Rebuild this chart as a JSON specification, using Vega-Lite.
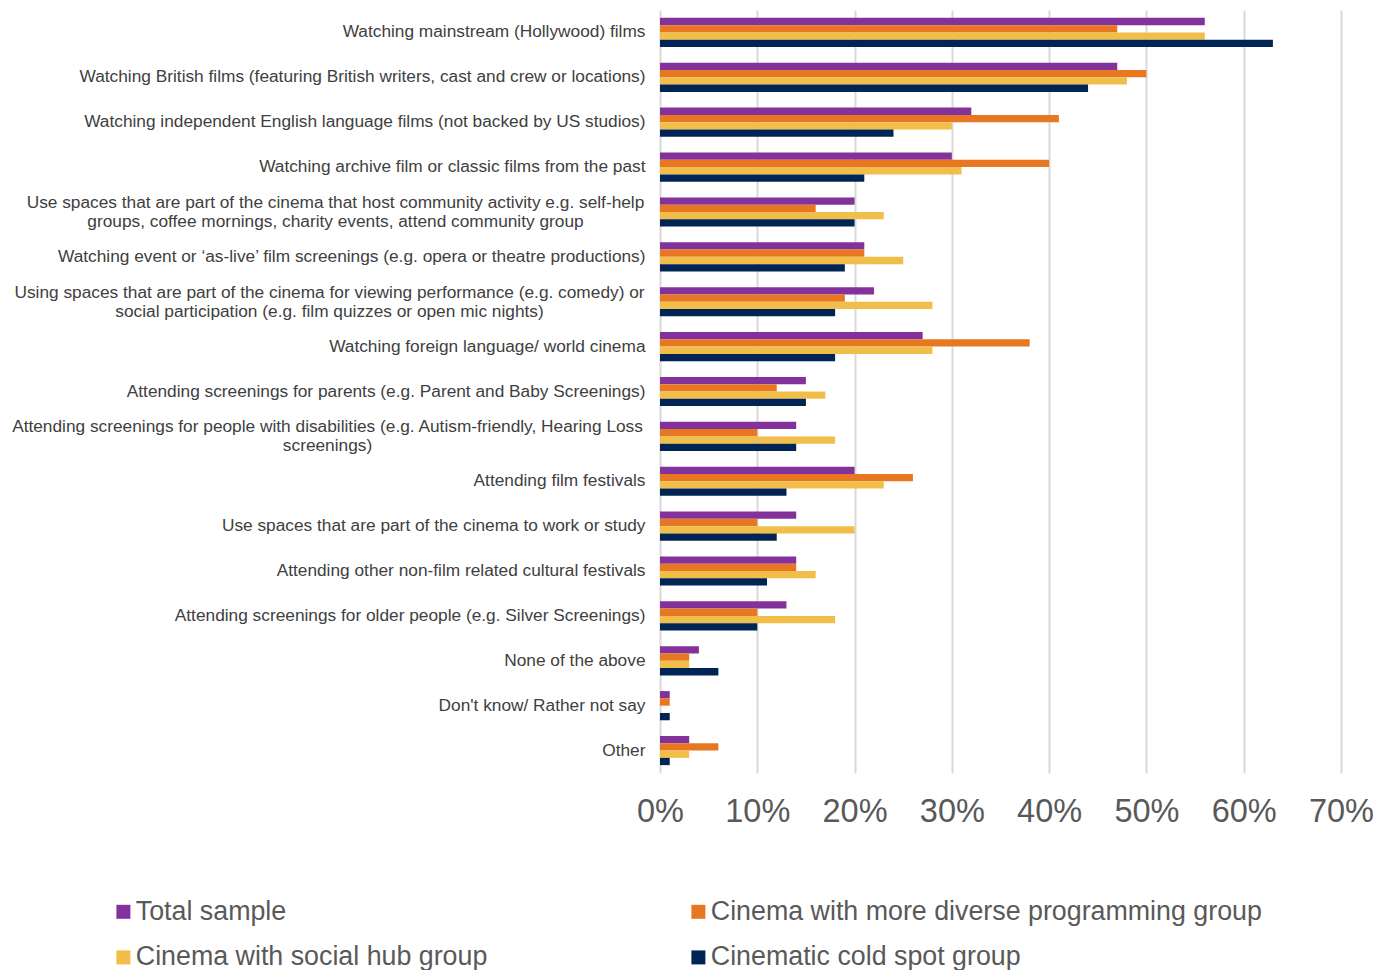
{
  "$schema": "https://vega.github.io/schema/vega-lite/v6.json",
  "width": 681,
  "height": 763,
  "autosize": {"type": "none"},
  "padding": {"left": 660, "top": 10, "right": 50, "bottom": 197},
  "background": "white",
  "config": {
    "font": "Liberation Sans",
    "view": {"stroke": null}
  },
  "data": {
    "values": [
      {"category": "Watching mainstream (Hollywood) films", "group": "Total sample", "value": 56},
      {"category": "Watching mainstream (Hollywood) films", "group": "Cinema with more diverse programming group", "value": 47},
      {"category": "Watching mainstream (Hollywood) films", "group": "Cinema with social hub group", "value": 56},
      {"category": "Watching mainstream (Hollywood) films", "group": "Cinematic cold spot group", "value": 63},
      {"category": "Watching British films (featuring British writers, cast and crew or locations)", "group": "Total sample", "value": 47},
      {"category": "Watching British films (featuring British writers, cast and crew or locations)", "group": "Cinema with more diverse programming group", "value": 50},
      {"category": "Watching British films (featuring British writers, cast and crew or locations)", "group": "Cinema with social hub group", "value": 48},
      {"category": "Watching British films (featuring British writers, cast and crew or locations)", "group": "Cinematic cold spot group", "value": 44},
      {"category": "Watching independent English language films (not backed by US studios)", "group": "Total sample", "value": 32},
      {"category": "Watching independent English language films (not backed by US studios)", "group": "Cinema with more diverse programming group", "value": 41},
      {"category": "Watching independent English language films (not backed by US studios)", "group": "Cinema with social hub group", "value": 30},
      {"category": "Watching independent English language films (not backed by US studios)", "group": "Cinematic cold spot group", "value": 24},
      {"category": "Watching archive film or classic films from the past", "group": "Total sample", "value": 30},
      {"category": "Watching archive film or classic films from the past", "group": "Cinema with more diverse programming group", "value": 40},
      {"category": "Watching archive film or classic films from the past", "group": "Cinema with social hub group", "value": 31},
      {"category": "Watching archive film or classic films from the past", "group": "Cinematic cold spot group", "value": 21},
      {"category": "Use spaces that are part of the cinema that host community activity e.g. self-help|groups, coffee mornings, charity events, attend community group", "group": "Total sample", "value": 20},
      {"category": "Use spaces that are part of the cinema that host community activity e.g. self-help|groups, coffee mornings, charity events, attend community group", "group": "Cinema with more diverse programming group", "value": 16},
      {"category": "Use spaces that are part of the cinema that host community activity e.g. self-help|groups, coffee mornings, charity events, attend community group", "group": "Cinema with social hub group", "value": 23},
      {"category": "Use spaces that are part of the cinema that host community activity e.g. self-help|groups, coffee mornings, charity events, attend community group", "group": "Cinematic cold spot group", "value": 20},
      {"category": "Watching event or ‘as-live’ film screenings (e.g. opera or theatre productions)", "group": "Total sample", "value": 21},
      {"category": "Watching event or ‘as-live’ film screenings (e.g. opera or theatre productions)", "group": "Cinema with more diverse programming group", "value": 21},
      {"category": "Watching event or ‘as-live’ film screenings (e.g. opera or theatre productions)", "group": "Cinema with social hub group", "value": 25},
      {"category": "Watching event or ‘as-live’ film screenings (e.g. opera or theatre productions)", "group": "Cinematic cold spot group", "value": 19},
      {"category": "Using spaces that are part of the cinema for viewing performance (e.g. comedy) or|social participation (e.g. film quizzes or open mic nights)", "group": "Total sample", "value": 22},
      {"category": "Using spaces that are part of the cinema for viewing performance (e.g. comedy) or|social participation (e.g. film quizzes or open mic nights)", "group": "Cinema with more diverse programming group", "value": 19},
      {"category": "Using spaces that are part of the cinema for viewing performance (e.g. comedy) or|social participation (e.g. film quizzes or open mic nights)", "group": "Cinema with social hub group", "value": 28},
      {"category": "Using spaces that are part of the cinema for viewing performance (e.g. comedy) or|social participation (e.g. film quizzes or open mic nights)", "group": "Cinematic cold spot group", "value": 18},
      {"category": "Watching foreign language/ world cinema", "group": "Total sample", "value": 27},
      {"category": "Watching foreign language/ world cinema", "group": "Cinema with more diverse programming group", "value": 38},
      {"category": "Watching foreign language/ world cinema", "group": "Cinema with social hub group", "value": 28},
      {"category": "Watching foreign language/ world cinema", "group": "Cinematic cold spot group", "value": 18},
      {"category": "Attending screenings for parents (e.g. Parent and Baby Screenings)", "group": "Total sample", "value": 15},
      {"category": "Attending screenings for parents (e.g. Parent and Baby Screenings)", "group": "Cinema with more diverse programming group", "value": 12},
      {"category": "Attending screenings for parents (e.g. Parent and Baby Screenings)", "group": "Cinema with social hub group", "value": 17},
      {"category": "Attending screenings for parents (e.g. Parent and Baby Screenings)", "group": "Cinematic cold spot group", "value": 15},
      {"category": "Attending screenings for people with disabilities (e.g. Autism-friendly, Hearing Loss|screenings)", "group": "Total sample", "value": 14},
      {"category": "Attending screenings for people with disabilities (e.g. Autism-friendly, Hearing Loss|screenings)", "group": "Cinema with more diverse programming group", "value": 10},
      {"category": "Attending screenings for people with disabilities (e.g. Autism-friendly, Hearing Loss|screenings)", "group": "Cinema with social hub group", "value": 18},
      {"category": "Attending screenings for people with disabilities (e.g. Autism-friendly, Hearing Loss|screenings)", "group": "Cinematic cold spot group", "value": 14},
      {"category": "Attending film festivals", "group": "Total sample", "value": 20},
      {"category": "Attending film festivals", "group": "Cinema with more diverse programming group", "value": 26},
      {"category": "Attending film festivals", "group": "Cinema with social hub group", "value": 23},
      {"category": "Attending film festivals", "group": "Cinematic cold spot group", "value": 13},
      {"category": "Use spaces that are part of the cinema to work or study", "group": "Total sample", "value": 14},
      {"category": "Use spaces that are part of the cinema to work or study", "group": "Cinema with more diverse programming group", "value": 10},
      {"category": "Use spaces that are part of the cinema to work or study", "group": "Cinema with social hub group", "value": 20},
      {"category": "Use spaces that are part of the cinema to work or study", "group": "Cinematic cold spot group", "value": 12},
      {"category": "Attending other non-film related cultural festivals", "group": "Total sample", "value": 14},
      {"category": "Attending other non-film related cultural festivals", "group": "Cinema with more diverse programming group", "value": 14},
      {"category": "Attending other non-film related cultural festivals", "group": "Cinema with social hub group", "value": 16},
      {"category": "Attending other non-film related cultural festivals", "group": "Cinematic cold spot group", "value": 11},
      {"category": "Attending screenings for older people (e.g. Silver Screenings)", "group": "Total sample", "value": 13},
      {"category": "Attending screenings for older people (e.g. Silver Screenings)", "group": "Cinema with more diverse programming group", "value": 10},
      {"category": "Attending screenings for older people (e.g. Silver Screenings)", "group": "Cinema with social hub group", "value": 18},
      {"category": "Attending screenings for older people (e.g. Silver Screenings)", "group": "Cinematic cold spot group", "value": 10},
      {"category": "None of the above", "group": "Total sample", "value": 4},
      {"category": "None of the above", "group": "Cinema with more diverse programming group", "value": 3},
      {"category": "None of the above", "group": "Cinema with social hub group", "value": 3},
      {"category": "None of the above", "group": "Cinematic cold spot group", "value": 6},
      {"category": "Don't know/ Rather not say", "group": "Total sample", "value": 1},
      {"category": "Don't know/ Rather not say", "group": "Cinema with more diverse programming group", "value": 1},
      {"category": "Don't know/ Rather not say", "group": "Cinema with social hub group", "value": 0},
      {"category": "Don't know/ Rather not say", "group": "Cinematic cold spot group", "value": 1},
      {"category": "Other", "group": "Total sample", "value": 3},
      {"category": "Other", "group": "Cinema with more diverse programming group", "value": 6},
      {"category": "Other", "group": "Cinema with social hub group", "value": 3},
      {"category": "Other", "group": "Cinematic cold spot group", "value": 1}
    ]
  },
  "mark": {"type": "bar"},
  "encoding": {
    "y": {
      "field": "category",
      "type": "nominal",
      "sort": null,
      "scale": {"paddingInner": 0.35, "paddingOuter": 0.175},
      "axis": {
        "title": null,
        "domain": false,
        "ticks": false,
        "tickSize": 0,
        "labelExpr": "split(datum.value, '|')",
        "labelFontSize": 17.3,
        "labelColor": "#404040",
        "labelLimit": 1000,
        "labelLineHeight": 19,
        "labelAlign": {"expr": "indexof(datum.value, '|') >= 0 ? 'center' : 'right'"},
        "labelOffset": {"expr": "indexof(datum.value, '|') >= 0 ? -9 : 0"},
        "labelPadding": {"expr": "indexof(datum.value, 'host community') >= 0 ? 325 : indexof(datum.value, 'viewing performance') >= 0 ? 331 : indexof(datum.value, 'disabilities') >= 0 ? 333 : 15"}
      }
    },
    "yOffset": {
      "field": "group",
      "type": "nominal",
      "sort": ["Total sample", "Cinema with more diverse programming group", "Cinema with social hub group", "Cinematic cold spot group"]
    },
    "x": {
      "field": "value",
      "type": "quantitative",
      "scale": {"domain": [0, 70], "nice": false},
      "axis": {
        "title": null,
        "values": [0, 10, 20, 30, 40, 50, 60, 70],
        "labelExpr": "datum.value + '%'",
        "domain": false,
        "ticks": false,
        "tickSize": 0,
        "grid": true,
        "gridColor": "#D9D9D9",
        "gridWidth": 2,
        "labelFontSize": 32.5,
        "labelColor": "#595959",
        "labelPadding": 22,
        "labelFlush": false
      }
    },
    "color": {
      "field": "group",
      "type": "nominal",
      "scale": {
        "domain": ["Total sample", "Cinema with social hub group", "Cinema with more diverse programming group", "Cinematic cold spot group"],
        "range": ["#84329B", "#F2BE4A", "#E87722", "#002554"]
      },
      "legend": {
        "title": null,
        "orient": "none",
        "legendX": -550,
        "legendY": 888,
        "padding": 0,
        "columns": 2,
        "columnPadding": 197,
        "rowPadding": 18,
        "symbolType": "square",
        "symbolSize": 196,
        "symbolStrokeWidth": 0,
        "labelFontSize": 26.8,
        "labelColor": "#595959",
        "labelOffset": -1,
        "labelLimit": 1000
      }
    }
  }
}
